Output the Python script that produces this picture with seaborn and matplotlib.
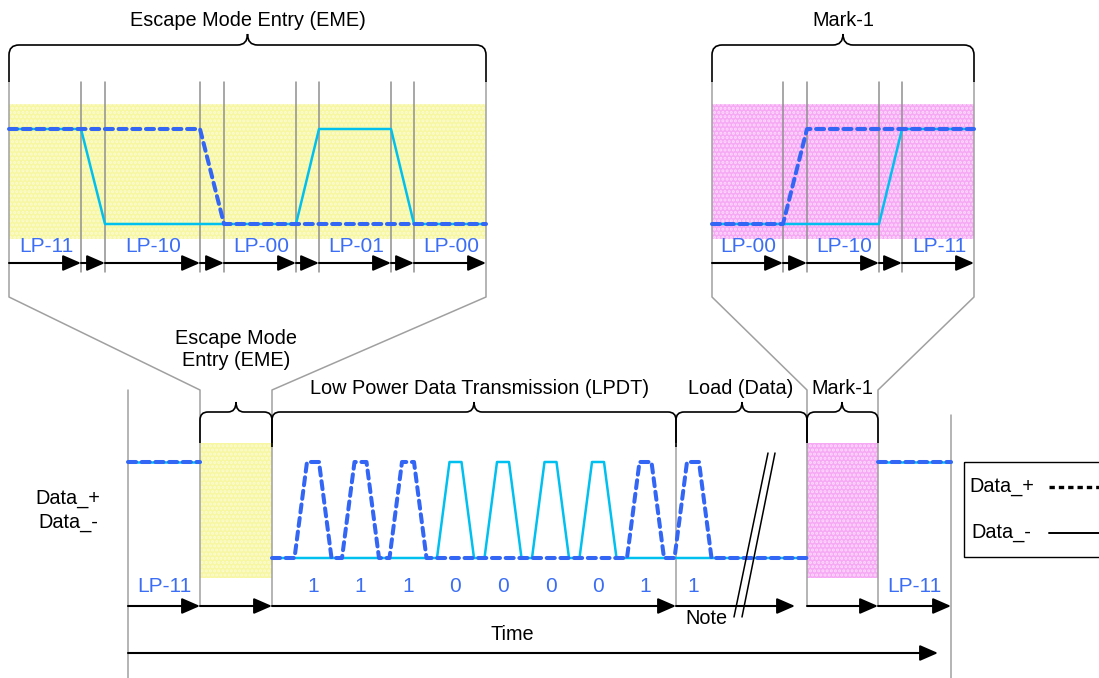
import numpy as np
import matplotlib.pyplot as plt
import seaborn as sns
from matplotlib.path import Path
from matplotlib.patches import PathPatch, Rectangle

sns.set_theme(style="white")
plt.rcParams['font.family'] = ['Liberation Sans', 'DejaVu Sans']
plt.rcParams['text.color'] = 'black'
plt.rcParams['hatch.linewidth'] = 1.5

# --- data (positions, in pixels) ---
# zoomed Escape Mode Entry panel
eme_edges = [9, 81, 105, 200, 224, 296, 319, 391, 414, 486]
eme_states = ["LP-11", "", "LP-10", "", "LP-00", "", "LP-01", "", "LP-00"]
eme_plus_t = [9, 200, 224, 486]
eme_plus_v = [1, 1, 0, 0]
eme_minus_t = [9, 81, 105, 296, 319, 391, 414, 486]
eme_minus_v = [1, 1, 0, 0, 1, 1, 0, 0]

# zoomed Mark-1 panel
mark_edges = [712, 783, 807, 879, 902, 974]
mark_states = ["LP-00", "", "LP-10", "", "LP-11"]
mark_plus_t = [712, 783, 807, 974]
mark_plus_v = [0, 0, 1, 1]
mark_minus_t = [712, 879, 902, 974]
mark_minus_v = [0, 0, 1, 1]

# main timeline
main_edges = [128, 200, 272, 676, 807, 878, 951]
bits = ["1", "1", "1", "0", "0", "0", "0", "1", "1"]
bit_centers = [313, 360.5, 408, 455.5, 503, 550.5, 598, 645.5, 693]

# colours
PLUS_C = "#3366f5"
MINUS_C = "#00c0f0"
LABEL_C = "#3b6ef5"
GREY = "#a0a0a0"

TOP_HI, TOP_LO = 129, 224
MAIN_HI, MAIN_LO = 462, 558


def level(v, hi, lo):
    return [lo + x * (hi - lo) for x in v]


def pulses(centers, which, lo_t, hi_t):
    t, v = [lo_t], [0]
    for c, b in zip(centers, bits):
        if b == which:
            t += [c - 18.5, c - 6, c + 6, c + 18.5]
            v += [0, 1, 1, 0]
    t.append(hi_t)
    v.append(0)
    return t, v


def wave(ax, t, v, hi, lo, plus):
    y = level(v, hi, lo)
    if plus:
        sns.lineplot(x=t, y=y, ax=ax, sort=False, estimator=None, color=PLUS_C,
                     lw=2.9, linestyle=(0, (2.0, 1.4)), zorder=4)
        ax.lines[-1].set_dash_capstyle('round')
    else:
        sns.lineplot(x=t, y=y, ax=ax, sort=False, estimator=None, color=MINUS_C,
                     lw=1.8, zorder=3)


def arrow(ax, x0, x1, y):
    ax.annotate('', xy=(x1, y), xytext=(x0, y),
                arrowprops=dict(arrowstyle='-|>,head_length=0.55,head_width=0.24',
                                color='black', lw=1.5, mutation_scale=20,
                                shrinkA=0, shrinkB=0), zorder=5)


def brace(ax, x0, x1, y, tip_x, tip_h, bottom, r=9):
    verts = [(x0, bottom), (x0, y + r), (x0, y), (x0 + r, y), (tip_x - r, y),
             (tip_x, y), (tip_x, y - tip_h), (tip_x, y), (tip_x + r, y),
             (x1 - r, y), (x1, y), (x1, y + r), (x1, bottom)]
    codes = [Path.MOVETO, Path.LINETO, Path.CURVE3, Path.CURVE3, Path.LINETO,
             Path.CURVE3, Path.CURVE3, Path.CURVE3, Path.CURVE3, Path.LINETO,
             Path.CURVE3, Path.CURVE3, Path.LINETO]
    ax.add_patch(PathPatch(Path(verts, codes), fill=False, lw=1.2,
                           edgecolor='black', zorder=5))


def band(ax, x0, x1, y0, y1, face, dots):
    ax.add_patch(Rectangle((x0, y0), x1 - x0, y1 - y0, facecolor=face,
                           edgecolor=dots, hatch='....', lw=0, zorder=1))


fig = plt.figure(figsize=(10.99, 6.78), dpi=100)
ax = fig.add_axes([0, 0, 1, 1])
ax.set_xlim(0, 1099)
ax.set_ylim(678, 0)
ax.axis('off')

YEL, YEL_DOT = "#f7f7a2", "#fbfbd2"
PINK, PINK_DOT = "#f6a8f4", "#fcdafb"
FS = 14.3
FS_LP = 15

# ---------- zoom panels ----------
for edges, states, pt, pv, mt, mv, face, dots, title in [
        (eme_edges, eme_states, eme_plus_t, eme_plus_v, eme_minus_t, eme_minus_v,
         YEL, YEL_DOT, "Escape Mode Entry (EME)"),
        (mark_edges, mark_states, mark_plus_t, mark_plus_v, mark_minus_t, mark_minus_v,
         PINK, PINK_DOT, "Mark-1")]:
    x0, x1 = edges[0], edges[-1]
    band(ax, x0, x1, 104, 239, face, dots)
    for e in edges[1:-1]:
        ax.plot([e, e], [82, 272], color='#909090', lw=1.1, zorder=2)
    wave(ax, mt, mv, TOP_HI, TOP_LO, plus=False)
    wave(ax, pt, pv, TOP_HI, TOP_LO, plus=True)
    for a, b, s in zip(edges[:-1], edges[1:], states):
        arrow(ax, a, b, 263)
        if s:
            ax.text((a + b) / 2 + 1, 246, s, color=LABEL_C, fontsize=FS_LP,
                    ha='center', va='center', zorder=6)
    tip = (x0 + x1) / 2
    brace(ax, x0, x1, 45, tip, 11, 82, r=10)
    ax.text(tip, 21, title, fontsize=FS, ha='center', va='center')

# connector lines from zoom panels to the main timeline
for (tx, mx) in [(9, 200), (486, 272), (712, 807), (974, 878)]:
    ax.plot([tx, tx, mx, mx], [82, 297, 390, 605], color=GREY, lw=1.1, zorder=2)

# ---------- main timeline ----------
ax.plot([128, 128], [390, 678], color=GREY, lw=1.1, zorder=2)
ax.plot([951, 951], [415, 678], color=GREY, lw=1.1, zorder=2)
ax.plot([676, 676], [445, 605], color=GREY, lw=1.1, zorder=2)

band(ax, main_edges[1], main_edges[2], 443, 578, YEL, YEL_DOT)
band(ax, main_edges[4], main_edges[5], 443, 578, PINK, PINK_DOT)

# LP-11 before and after
for a, b in [(main_edges[0], main_edges[1]), (main_edges[5], main_edges[6])]:
    wave(ax, [a, b], [1, 1], MAIN_HI, MAIN_LO, plus=False)
    wave(ax, [a, b], [1, 1], MAIN_HI, MAIN_LO, plus=True)
    ax.text((a + b) / 2, 587, "LP-11", color=LABEL_C, fontsize=FS_LP,
            ha='center', va='center')

mt, mv = pulses(bit_centers, "0", main_edges[2], main_edges[4])
wave(ax, mt, mv, MAIN_HI, MAIN_LO, plus=False)
pt, pv = pulses(bit_centers, "1", main_edges[2], main_edges[4])
wave(ax, pt, pv, MAIN_HI, MAIN_LO, plus=True)

for c, b in zip(bit_centers, bits):
    ax.text(c, 587, b, color=LABEL_C, fontsize=FS_LP, ha='center', va='center')

# arrows of the main timeline
for a, b in [(128, 200), (200, 272), (272, 676), (676, 795), (807, 878), (878, 951)]:
    arrow(ax, a, b, 606)
arrow(ax, 128, 938, 653)
ax.text(512, 635, "Time", fontsize=FS, ha='center', va='center')
ax.text(706, 618, "Note", fontsize=FS, ha='center', va='center', zorder=6)

# break marks
ax.plot([768, 734], [453, 617], color='black', lw=1.1, zorder=6)
ax.plot([775, 742], [453, 617], color='black', lw=1.1, zorder=6)

# braces and section labels
brace(ax, 200, 272, 412, 236, 10, 443, r=8)
brace(ax, 272, 676, 412, 474, 10, 447, r=8)
brace(ax, 676, 807, 412, 742, 10, 443, r=8)
brace(ax, 807, 878, 412, 842, 10, 443, r=8)
ax.text(236, 349, "Escape Mode\nEntry (EME)", fontsize=FS, ha='center',
        va='center', linespacing=1.2)
ax.text(480, 388, "Low Power Data Transmission (LPDT)", fontsize=FS,
        ha='center', va='center')
ax.text(741, 388, "Load (Data)", fontsize=FS, ha='center', va='center')
ax.text(842, 388, "Mark-1", fontsize=FS, ha='center', va='center')

# signal names
ax.text(68, 498, "Data_+", fontsize=FS, ha='center', va='center')
ax.text(68, 523, "Data_-", fontsize=FS, ha='center', va='center')

# legend box
ax.add_patch(Rectangle((964, 462), 200, 95, fill=False, edgecolor='black',
                       lw=1.0, zorder=5))
ax.text(969, 486, "Data_+", fontsize=FS, ha='left', va='center')
ax.text(971, 533, "Data_-", fontsize=FS, ha='left', va='center')
ax.plot([1049, 1099], [487, 487], color='black', lw=2.4,
        linestyle=(0, (1.6, 1.2)), zorder=5)
ax.plot([1049, 1099], [533, 533], color='black', lw=1.4, zorder=5)

fig.savefig("out.png", dpi=100)
